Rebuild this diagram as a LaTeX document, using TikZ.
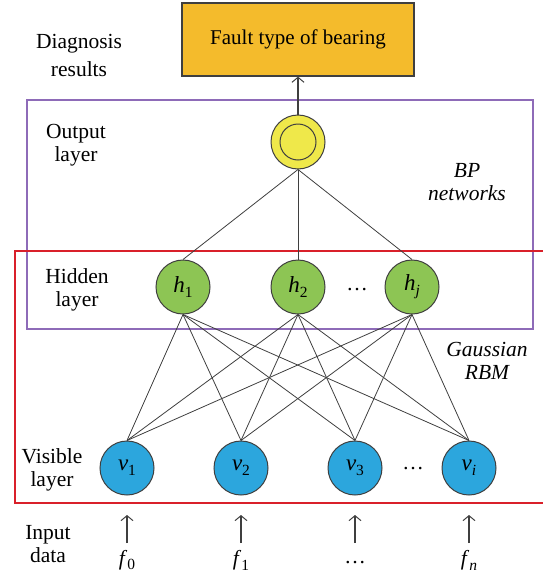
\documentclass[tikz,border=0pt]{standalone}
\usepackage{fontspec}
\setmainfont{Liberation Serif}
\usetikzlibrary{arrows.meta}
\definecolor{boxorange}{HTML}{F4BB2C}
\definecolor{outyellow}{HTML}{EFE84A}
\definecolor{hidgreen}{HTML}{8DC554}
\definecolor{visblue}{HTML}{2CA6DD}
\definecolor{bppurple}{HTML}{8E6BB8}
\definecolor{rbmred}{HTML}{D9202A}
\definecolor{edgegray}{HTML}{3F3F3F}
\newcommand\varsub[2]{\textit{#1}\raisebox{-0.5ex}{\fontsize{15.5}{15.5}\selectfont #2}}
\begin{document}
\begin{tikzpicture}[x=1pt,y=-1pt,
  lab/.style={font=\fontsize{21.5}{23}\selectfont, align=center, inner sep=0pt},
  neuron/.style={circle, draw=edgegray, line width=1pt, minimum size=54pt, inner sep=0pt, font=\fontsize{23}{23}\selectfont},
  conn/.style={draw=edgegray, line width=0.8pt},
  uparrow/.style={draw=edgegray, line width=1.3pt, -{Straight Barb[length=5pt,width=12pt,line width=1pt]}},
  faultbox/.style={draw=edgegray, line width=1.3pt, fill=boxorange, minimum width=232pt, minimum height=73pt, inner sep=0pt, font=\fontsize{21}{23}\selectfont}
]
\useasboundingbox (0,0) rectangle (543,576);

% regions
\draw[bppurple, line width=1.6pt] (27,100) rectangle (533,329);
\draw[rbmred, line width=1.2pt] (543,251) -- (15,251) -- (15,503) -- (543,503);

% output box
\node[faultbox] (fault) at (298,39.5) {Fault type of bearing};

% output neuron
\node[neuron, fill=outyellow] (o) at (298,142) {};
\node[circle, draw=edgegray, line width=1pt, minimum size=36pt, inner sep=0pt] (oin) at (o) {};

% hidden
\node[neuron, fill=hidgreen] (h1) at (183,287) {\varsub{h}{1}};
\node[neuron, fill=hidgreen] (h2) at (298,287) {\varsub{h}{2}};
\node[neuron, fill=hidgreen] (hj) at (412,287) {\varsub{h}{\textit{j}}};
\node[lab] (hdots) at (357,290) {\dots};

% visible
\node[neuron, fill=visblue] (v1) at (127,468) {\varsub{v}{1}};
\node[neuron, fill=visblue] (v2) at (241,468) {\varsub{v}{2}};
\node[neuron, fill=visblue] (v3) at (355,468) {\varsub{v}{3}};
\node[neuron, fill=visblue] (vi) at (469,468) {\varsub{v}{\textit{i}}};
\node[lab] (vdots) at (413,469) {\dots};

% connections
\draw[uparrow] (o.north) -- (fault.south);
\foreach \h in {h1,h2,hj} {
  \draw[conn] (o.south) -- (\h.north);
  \foreach \v in {v1,v2,v3,vi} {
    \draw[conn] (\h.south) -- (\v.north);
  }
}

% inputs
\foreach \n/\x in {0/127,1/241,2/355,3/469} {
  \coordinate (s\n) at (\x,543);
  \coordinate (e\n) at (\x,515);
  \draw[uparrow] (s\n) -- (e\n);
}
\node[lab] (f0) at (127,560) {\varsub{f}{0}};
\node[lab] (f1) at (241,560) {\varsub{f}{1}};
\node[lab] (fdots) at (355,563) {\dots};
\node[lab] (fn) at (469,560) {\varsub{f}{\textit{n}}};

% side labels
\node[lab, font=\fontsize{21.5}{28}\selectfont] (diag) at (79,55) {Diagnosis\\results};
\node[lab] (outl) at (76,145) {Output\\layer};
\node[lab] (hidl) at (77,290) {Hidden\\layer};
\node[lab] (visl) at (52,470) {Visible\\layer};
\node[lab] (inl) at (48,544) {Input\\data};
\node[lab, font=\itshape\fontsize{21.5}{23}\selectfont] (bpl) at (467,182) {BP\\networks};
\node[lab, font=\itshape\fontsize{21.5}{23}\selectfont] (rbml) at (487,361) {Gaussian\\RBM};
\end{tikzpicture}
\end{document}
